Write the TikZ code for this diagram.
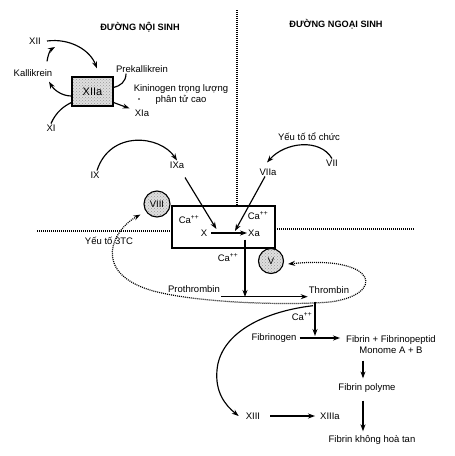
\documentclass[tikz,border=0pt]{standalone}
\usepackage{fontspec}
\setmainfont{Liberation Sans}
\usetikzlibrary{arrows.meta,patterns}

\begin{document}
\begin{tikzpicture}[x=1pt,y=-1pt,>={Stealth[length=7pt,width=5pt]},
    every node/.style={font=\fontsize{9.5}{11}\selectfont,inner sep=1pt},
    title/.style={font=\fontsize{9.2}{11}\selectfont\bfseries},
    arr/.style={->,line width=1.15pt},
    plain/.style={line width=1.15pt},
    dots/.style={line width=1.2pt,dash pattern=on 1pt off 1pt},
    stip/.style={draw,line width=1.1pt,preaction={fill=gray!25},pattern=crosshatch dots,pattern color=gray!80},
    factor/.style={circle,stip,minimum size=26pt,inner sep=0pt}]
\useasboundingbox (0,0) rectangle (455,456);

% titles and dividers
\node[title] (noi) at (140,27) {ĐƯỜNG NỘI SINH};
\node[title] (ngoai) at (336,24) {ĐƯỜNG NGOẠI SINH};
\draw[dots] (237,10) -- (237,206);
\draw[dots] (37,231) -- (172,231);
\draw[dots] (275,229) -- (415,229);

% contact phase
\node[stip,minimum width=41pt,minimum height=29pt] (xiia) at (92.5,91.5) {\fontsize{11}{13}\selectfont XIIa};
\node (xii) at (35,41) {XII};
\node (kal) at (33,73) {Kallikrein};
\node (prek) at (142,69) {Prekallikrein};
\node[align=center] (kin) at (181,94.5) {Kininogen trọng lượng\\phân tử cao};
\fill (139,99) circle (0.8pt);
\node (xia) at (142,113) {XIa};
\node (xi) at (51,128) {XI};

\draw[arr] ([xshift=5pt]xii.east) .. controls (70,38) and (90,50) .. ([xshift=4.5pt,yshift=8pt]xiia.north);
\draw[arr] ([xshift=14pt,yshift=7pt]kal.north) .. controls (48,55) and (50,50) .. (55,47);
\draw[arr] ([yshift=-4.5pt]xiia.west) .. controls (62,96) and (54,90) .. ([xshift=16pt,yshift=-4pt]kal.south);
\draw[plain] ([xshift=-16pt]prek.south) .. controls (126,82) and (120,86) .. ([yshift=4pt]xiia.east);
\draw[arr] ([yshift=-11pt]xiia.east) -- ([xshift=-4pt]xia.north west);
\draw[plain] (xi.north) .. controls (56,112) and (64,106) .. ([yshift=-11pt]xiia.west);

% IX and VII
\node (ix) at (95,175) {IX};
\node (ixa) at (177,165) {IXa};
\node (ytc) at (309,137) {Yếu tố tổ chức};
\node (vii) at (332,163) {VII};
\node (viia) at (268,172) {VIIa};
\draw[arr] ([xshift=2pt]ix.north) .. controls (110,130) and (160,135) .. (ixa.north);
\draw[arr] (vii.north) .. controls (320,138) and (285,142) .. ([xshift=-1pt,yshift=5pt]viia.north);

% prothrombinase complex
\node[draw,line width=1.1pt,minimum width=103pt,minimum height=42pt] (xbox) at (223.5,227) {};
\node[factor] (viii) at (157,204) {VIII};
\node[factor,minimum size=25pt] (v) at (271,261) {V};
\node (ca1) at (189,220) {Ca\textsuperscript{++}};
\node (ca2) at (258,216) {Ca\textsuperscript{++}};
\node (x) at (204,233) {X};
\node (xa) at (254,233) {Xa};
\node (ca3) at (228,258) {Ca\textsuperscript{++}};
\node (y3tc) at (109,241) {Yếu tố 3TC};
\draw[arr] ([xshift=8pt,yshift=-8pt]ixa.south) -- ([xshift=8pt,yshift=4pt]x.east);
\draw[arr] ([xshift=-3pt]viia.south) -- ([xshift=-12pt,yshift=2pt]xa.west);
\draw[arr] ([xshift=3pt]x.east) -- (xa.west);

% thrombin
\node (prot) at (194,289) {Prothrombin};
\node (thr) at (329,290) {Thrombin};
\coordinate (pmid) at (245,297);
\draw[arr] ([yshift=-3pt]prot.south east) -- ([yshift=-3pt]prot.south east -| thr.west);
\draw[arr] ([xshift=-9pt,yshift=-2pt]xa.south) -- (pmid);
\draw[dots,<->] ([xshift=-7pt,yshift=-1pt]viii.south west) .. controls (112,230) and (92,272) .. (150,290)
    .. controls (190,302) and (280,306) .. (330,302)
    .. controls (385,295) and (380,255) .. ([xshift=4pt,yshift=-3pt]v.east);

% fibrin
\node (ca4) at (302,317) {Ca\textsuperscript{++}};
\node (fbg) at (274,338) {Fibrinogen};
\node[align=center] (fib) at (391,344.5) {Fibrin + Fibrinopeptid\\Monome A + B};
\node (poly) at (367,388) {Fibrin polyme};
\node (xiii) at (253,416) {XIII};
\node (xiiia) at (330,416) {XIIIa};
\node (fkht) at (372,440) {Fibrin không hoà tan};
\coordinate (fmid) at (315,336);
\draw[arr] ([xshift=-14pt,yshift=-7pt]thr.south) -- (fmid);
\draw[arr] ([xshift=2pt]fbg.east) -- ([xshift=-5pt]fbg.east -| fib.west);
\draw[arr] ([xshift=-28pt,yshift=-6pt]fib.south) -- ([xshift=-4pt,yshift=4pt]poly.north);
\draw[arr] ([xshift=-4pt,yshift=-7pt]poly.south) -- ([xshift=-9pt,yshift=3pt]fkht.north);
\draw[arr] ([xshift=-16pt,yshift=-11pt]thr.south) .. controls (260,312) and (220,335) .. (217,370)
    .. controls (215,392) and (225,405) .. ([xshift=-6pt]xiii.west);
\draw[arr] ([xshift=9pt]xiii.east) -- ([xshift=-4pt]xiiia.west);
\end{tikzpicture}
\end{document}
